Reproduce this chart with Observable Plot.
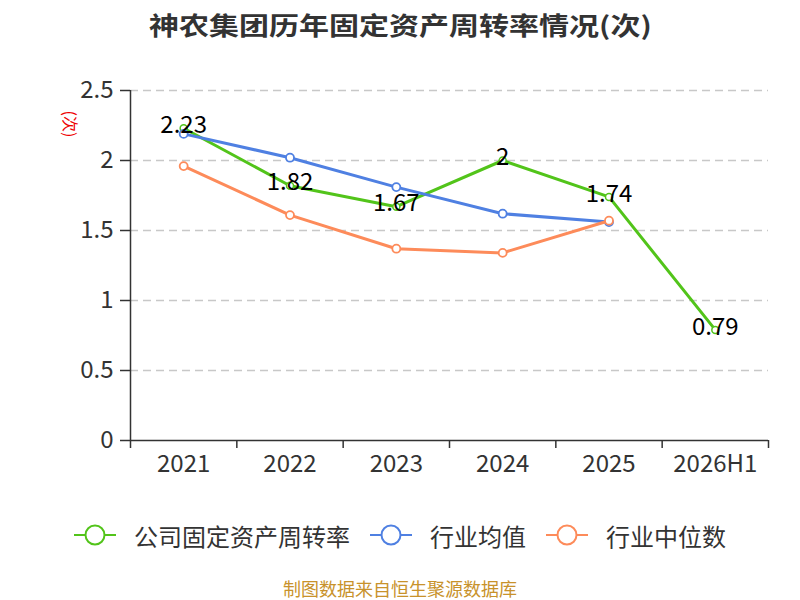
<!DOCTYPE html>
<html><head><meta charset="utf-8">
<script src="https://cdn.jsdelivr.net/npm/d3@7"></script>
<script src="https://cdn.jsdelivr.net/npm/@observablehq/plot@0.6"></script>
<style>
body{margin:0;width:800px;height:600px;background:#fff;font-family:"Noto Sans CJK SC","Noto Sans",sans-serif;position:relative;overflow:hidden}
#title{height:48px;line-height:48px;text-align:center;color:#333}
#title span{display:inline-block;font-size:25px;font-weight:bold;transform:scaleX(1.2);transform-origin:center}
#ylab{position:absolute;left:56px;top:114px;color:#e00;font-size:16px;transform:rotate(90deg);transform-origin:center;width:30px;text-align:center;line-height:20px}
#legend{margin-top:30px;height:40px;display:flex;justify-content:center;align-items:center;font-size:24px;color:#333}
.item{display:flex;align-items:center;margin:0 10px}
.item svg{margin-right:18px}
#footer{margin-top:23px;height:20px;line-height:20px;text-align:center;font-size:18px;color:#c8922b}
</style></head><body>
<div id="title"><span>神农集团历年固定资产周转率情况(次)</span></div>
<div id="chart"></div>
<div id="ylab">(次)</div>
<div id="legend"></div>
<div id="footer">制图数据来自恒生聚源数据库</div>
<script>
const categories = ["2021","2022","2023","2024","2025","2026H1"];
const company = [2.23, 1.82, 1.67, 2, 1.74, 0.79];
const industryAvg = [2.19, 2.02, 1.81, 1.62, 1.56];
const industryMedian = [1.96, 1.61, 1.37, 1.34, 1.57];
const yTicks = [0, 0.5, 1, 1.5, 2, 2.5];
const seriesNames = ["公司固定资产周转率", "行业均值", "行业中位数"];
const colors = ["#52c41a", "#4f80e2", "#fd8b5a"];

const toRows = (vals) => vals.map((v, i) => ({x: i + 0.5, y: v, label: String(v)}));
const cRows = toRows(company), aRows = toRows(industryAvg), mRows = toRows(industryMedian);
const boundaries = d3.range(categories.length + 1);
const centers = categories.map((c, i) => i + 0.5);

const chart = Plot.plot({
  width: 800, height: 437,
  marginLeft: 130, marginRight: 32, marginTop: 42, marginBottom: 45,
  style: {fontFamily: "'Noto Sans CJK SC','Noto Sans',sans-serif", fontSize: "24px", color: "#333", background: "#fff"},
  x: {type: "linear", domain: [0, categories.length], axis: null},
  y: {domain: [0, 2.5], axis: null},
  marks: [
    Plot.ruleY(yTicks.filter(d => d > 0), {stroke: "#c8c8c8", strokeWidth: 1.5, strokeDasharray: "8,5"}),
    Plot.axisY({ticks: yTicks, label: null, tickSize: 10, tickPadding: 7, tickFormat: d => String(d), stroke: "#333", strokeWidth: 1.5, fill: "#333", fontSize: 24}),
    Plot.ruleX([0], {stroke: "#333", strokeWidth: 1.5}),
    Plot.ruleY([0], {stroke: "#333", strokeWidth: 1.5}),
    Plot.axisX({ticks: boundaries, label: null, tickSize: 8, tickFormat: () => "", stroke: "#333", strokeWidth: 1.5}),
    Plot.axisX({ticks: centers, label: null, tickSize: 0, tickPadding: 14, tickFormat: d => categories[Math.floor(d)], fill: "#333", fontSize: 24}),
    Plot.line(cRows, {x: "x", y: "y", stroke: colors[0], strokeWidth: 3}),
    Plot.dot(cRows, {x: "x", y: "y", r: 3.5, fill: "#fff", stroke: colors[0], strokeWidth: 1.5}),
    Plot.line(aRows, {x: "x", y: "y", stroke: colors[1], strokeWidth: 3}),
    Plot.dot(aRows, {x: "x", y: "y", r: 4, fill: "#fff", stroke: colors[1], strokeWidth: 1.8}),
    Plot.line(mRows, {x: "x", y: "y", stroke: colors[2], strokeWidth: 3}),
    Plot.dot(mRows, {x: "x", y: "y", r: 4, fill: "#fff", stroke: colors[2], strokeWidth: 1.8}),
    Plot.text(cRows, {x: "x", y: "y", text: "label", dy: -3, fill: "#000", fontSize: 24, textAnchor: "middle", lineAnchor: "middle"})
  ]
});
document.getElementById("chart").appendChild(chart);

const legend = document.getElementById("legend");
seriesNames.forEach((name, i) => {
  const item = document.createElement("div");
  item.className = "item";
  item.innerHTML = `<svg width="42" height="24"><line x1="0" y1="12" x2="42" y2="12" stroke="${colors[i]}" stroke-width="2"/><circle cx="21" cy="12" r="9.5" fill="#fff" stroke="${colors[i]}" stroke-width="2"/></svg><span>${name}</span>`;
  legend.appendChild(item);
});
</script>
</body></html>
